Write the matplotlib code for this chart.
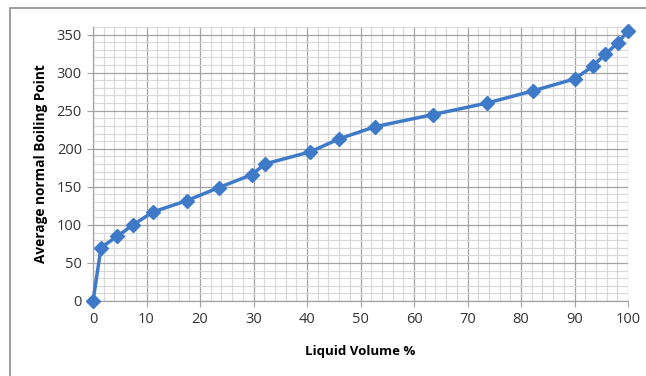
import matplotlib.pyplot as plt
from matplotlib.patches import Rectangle
from matplotlib.ticker import MultipleLocator

# liquid volume % vs average normal boiling point
vol = [0, 1.5, 4.5, 7.5, 11.2, 17.6, 23.5, 29.7, 32.1, 40.6, 46.0, 52.7,
       63.6, 73.6, 82.2, 90.1, 93.5, 95.7, 98.1, 100]
nbp = [0, 70, 85, 100, 117, 132, 149, 166, 180, 196, 213, 229,
       245, 260, 276, 292, 309, 324, 339, 355]

plt.rcParams['font.family'] = ['Open Sans', 'DejaVu Sans']

fig = plt.figure(figsize=(6.46, 3.76), dpi=100)
ax = fig.add_axes([93/646, 1-301/376, 535/646, 274/376])

# chart border, cut off at right and bottom like the reference
fig.patches.append(Rectangle((10/646, -0.1), 1.2, 1-8/376+0.1,
                             transform=fig.transFigure, fill=False,
                             edgecolor='#8c8c8c', linewidth=1.2))

ax.plot(vol, nbp, color='#3f7ac8', linewidth=2.5, marker='D',
        markersize=7, zorder=3, clip_on=False)

ax.set_xlim(0, 100)
ax.set_ylim(0, 360)
ax.xaxis.set_major_locator(MultipleLocator(10))
ax.xaxis.set_minor_locator(MultipleLocator(2))
ax.yaxis.set_major_locator(MultipleLocator(50))
ax.yaxis.set_minor_locator(MultipleLocator(10))

ax.grid(which='minor', color='#d9d9d9', linewidth=0.9)
ax.grid(which='major', color='#a3a3a3', linewidth=0.9)
ax.set_axisbelow(True)

for s in ['top', 'right']:
    ax.spines[s].set_visible(False)
for s in ['left', 'bottom']:
    ax.spines[s].set_color('#a3a3a3')
    ax.spines[s].set_linewidth(0.9)

ax.tick_params(which='major', length=4, color='#a3a3a3', labelsize=10.5,
               labelcolor='#333333', pad=4)
ax.tick_params(which='minor', length=0)

ax.set_xlabel('Liquid Volume %', fontsize=9.5, fontweight='bold', labelpad=13)
ax.set_ylabel('Average normal Boiling Point', fontsize=9.8, fontweight='bold',
              labelpad=6)

fig.savefig('out.png', dpi=100)
